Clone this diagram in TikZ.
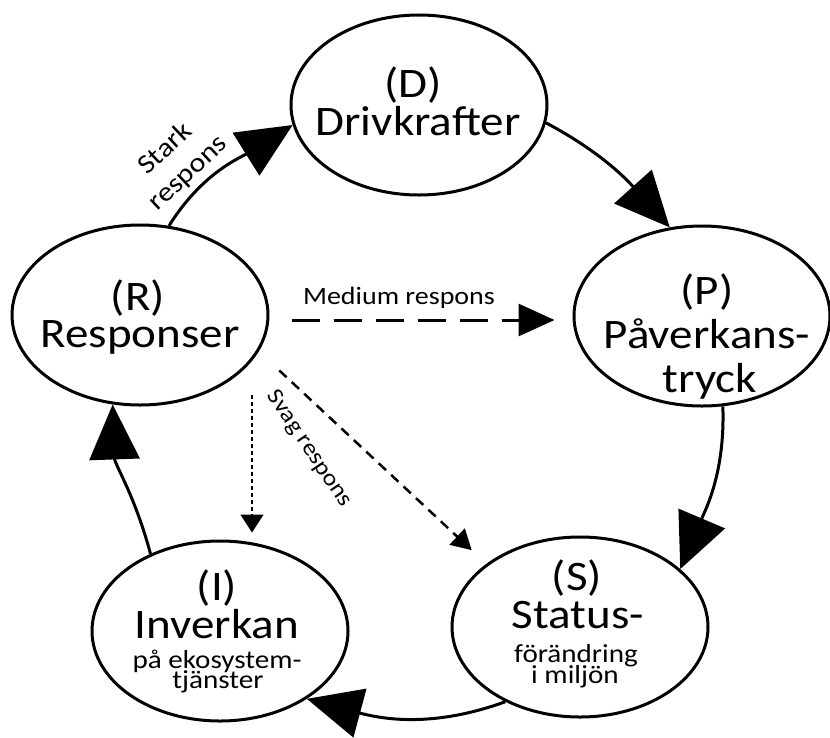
\documentclass[tikz,border=0pt]{standalone}
\usepackage{fontspec}
\setmainfont{Carlito}[FakeStretch=1.12]
\usetikzlibrary{arrows.meta,shapes.geometric}

\begin{document}
\begin{tikzpicture}[x=1pt,y=1pt,
  stage/.style={draw, ellipse, line width=3pt, minimum width=256pt,
    minimum height=180pt, inner sep=0pt},
  big/.style={font=\fontsize{42}{42}\selectfont, inner sep=0pt, anchor=base},
  small/.style={font=\fontsize{26}{26}\selectfont, inner sep=0pt, anchor=base},
  lbl/.style={font=\fontsize{25}{33}\selectfont, inner sep=0pt},
  looparr/.style={line width=3pt, line join=miter,
    -{Triangle[length=55pt,width=50pt]}},
  medarr/.style={line width=3pt, dash pattern=on 28pt off 14pt,
    -{Triangle[length=36pt,width=32pt]}},
  diagarr/.style={line width=2.5pt, dash pattern=on 10pt off 7pt,
    -{Triangle[length=20pt,width=22pt]}},
  weakarr/.style={line width=1.5pt, dash pattern=on 4pt off 3pt,
    -{Triangle[length=18pt,width=23pt]}}
]
\useasboundingbox (0,0) rectangle (830,-737);

% the five stages of the DPSIR cycle
\node[stage] (D) at (419,-105) {};
\node[stage] (P) at (702,-316) {};
\node[stage] (S) at (580,-627) {};
\node[stage] (I) at (220,-631) {};
\node[stage] (R) at (140,-315) {};

% stage texts
\node[big] (D1) at (413,-97) {(D)};
\node[big] (D2) at (418,-135) {Drivkrafter};

\node[big] (P1) at (707,-304) {(P)};
\node[big] (P2) at (707,-348) {Påverkans-};
\node[big] (P3) at (710,-392) {tryck};

\node[big] (S1) at (577,-590) {(S)};
\node[big] (S2) at (578,-628) {Status-};
\node[small] (S3) at (576,-662) {förändring};
\node[small] (S4) at (575,-683) {i miljön};

\node[big] (I1) at (217,-600) {(I)};
\node[big] (I2) at (217,-638) {Inverkan};
\node[small] (I3) at (217,-668) {på ekosystem-};
\node[small] (I4) at (218,-688) {tjänster};

\node[big] (R1) at (138,-310) {(R)};
\node[big] (R2) at (140,-347) {Responser};

% the main cycle
\draw[looparr] (R.72) to[out=58, in=212] (D.189);
\draw[looparr] (D.-8) to[out=-28, in=132] (P.110);
\draw[looparr] (P.-77) to[out=-88, in=67] (S.30);
\draw[looparr] (S.-135) to[out=200, in=-15] (I.-38);
\draw[looparr] (I.132) to[out=105, in=-88] (R.-107);

% responses of different strength
\draw[medarr, shorten <=22pt, shorten >=18pt]
  ([yshift=-5pt]R.east) -- ([yshift=-4pt]P.west);
\draw[diagarr, shorten <=28pt, shorten >=20pt] (R.-17) -- (S.146);
\draw[weakarr] ([xshift=112pt,yshift=-80pt]R.center)
  -- ([xshift=32pt,yshift=7pt]I.north);

% response labels
\node[lbl, font=\fontsize{27}{33}\selectfont, rotate=43, align=center]
  (stark) at (177,-161) {Stark\\respons};
\node[lbl] (medium) at (399,-298) {Medium respons};
\node[lbl, font=\fontsize{23}{23}\selectfont, rotate=-56] (svag) at (309,-449) {Svag respons};
\end{tikzpicture}
\end{document}
